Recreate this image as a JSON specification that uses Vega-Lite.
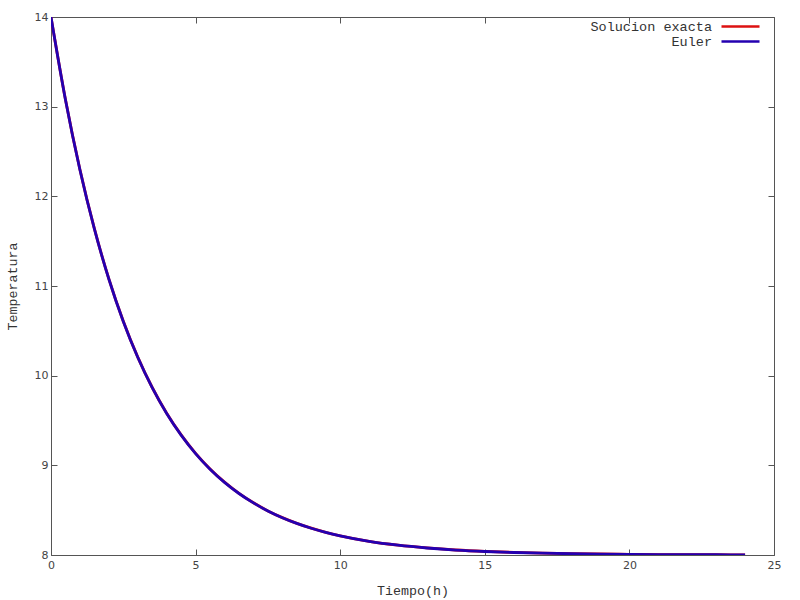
{
  "$schema": "https://vega.github.io/schema/vega-lite/v6.json",
  "width": 723,
  "height": 538,
  "autosize": {"type": "none"},
  "padding": {"left": 51, "top": 17, "right": 26, "bottom": 45},
  "background": "white",
  "config": {
    "view": {"stroke": "#555555", "strokeWidth": 1},
    "font": "DejaVu Sans",
    "axis": {
      "grid": false,
      "domain": false,
      "tickColor": "#555555",
      "tickSize": -6,
      "labelFlush": false,
      "labelOverlap": false,
      "labelFont": "DejaVu Sans",
      "labelFontSize": 11,
      "labelColor": "#444444",
      "titleFont": "Liberation Mono",
      "titleFontSize": 13.3,
      "titleFontWeight": "normal",
      "titleColor": "#333333"
    }
  },
  "data": {
    "values": [
      {"t": 0, "T": 14.0, "s": "Solucion exacta"},
      {"t": 0.5, "T": 13.079, "s": "Solucion exacta"},
      {"t": 1, "T": 12.299, "s": "Solucion exacta"},
      {"t": 1.5, "T": 11.639, "s": "Solucion exacta"},
      {"t": 2, "T": 11.08, "s": "Solucion exacta"},
      {"t": 2.5, "T": 10.607, "s": "Solucion exacta"},
      {"t": 3, "T": 10.207, "s": "Solucion exacta"},
      {"t": 3.5, "T": 9.868, "s": "Solucion exacta"},
      {"t": 4, "T": 9.581, "s": "Solucion exacta"},
      {"t": 4.5, "T": 9.339, "s": "Solucion exacta"},
      {"t": 5, "T": 9.133, "s": "Solucion exacta"},
      {"t": 5.5, "T": 8.959, "s": "Solucion exacta"},
      {"t": 6, "T": 8.812, "s": "Solucion exacta"},
      {"t": 6.5, "T": 8.687, "s": "Solucion exacta"},
      {"t": 7, "T": 8.582, "s": "Solucion exacta"},
      {"t": 7.5, "T": 8.492, "s": "Solucion exacta"},
      {"t": 8, "T": 8.417, "s": "Solucion exacta"},
      {"t": 8.5, "T": 8.353, "s": "Solucion exacta"},
      {"t": 9, "T": 8.299, "s": "Solucion exacta"},
      {"t": 9.5, "T": 8.253, "s": "Solucion exacta"},
      {"t": 10, "T": 8.214, "s": "Solucion exacta"},
      {"t": 11, "T": 8.153, "s": "Solucion exacta"},
      {"t": 12, "T": 8.11, "s": "Solucion exacta"},
      {"t": 13, "T": 8.079, "s": "Solucion exacta"},
      {"t": 14, "T": 8.056, "s": "Solucion exacta"},
      {"t": 15, "T": 8.04, "s": "Solucion exacta"},
      {"t": 16, "T": 8.029, "s": "Solucion exacta"},
      {"t": 17, "T": 8.021, "s": "Solucion exacta"},
      {"t": 18, "T": 8.015, "s": "Solucion exacta"},
      {"t": 19, "T": 8.011, "s": "Solucion exacta"},
      {"t": 20, "T": 8.008, "s": "Solucion exacta"},
      {"t": 21, "T": 8.005, "s": "Solucion exacta"},
      {"t": 22, "T": 8.004, "s": "Solucion exacta"},
      {"t": 23, "T": 8.003, "s": "Solucion exacta"},
      {"t": 24, "T": 8.002, "s": "Solucion exacta"},
      {"t": 0, "T": 14.0, "s": "Euler"},
      {"t": 0.5, "T": 13.078, "s": "Euler"},
      {"t": 1, "T": 12.297, "s": "Euler"},
      {"t": 1.5, "T": 11.637, "s": "Euler"},
      {"t": 2, "T": 11.078, "s": "Euler"},
      {"t": 2.5, "T": 10.605, "s": "Euler"},
      {"t": 3, "T": 10.205, "s": "Euler"},
      {"t": 3.5, "T": 9.866, "s": "Euler"},
      {"t": 4, "T": 9.579, "s": "Euler"},
      {"t": 4.5, "T": 9.337, "s": "Euler"},
      {"t": 5, "T": 9.131, "s": "Euler"},
      {"t": 5.5, "T": 8.957, "s": "Euler"},
      {"t": 6, "T": 8.81, "s": "Euler"},
      {"t": 6.5, "T": 8.686, "s": "Euler"},
      {"t": 7, "T": 8.581, "s": "Euler"},
      {"t": 7.5, "T": 8.491, "s": "Euler"},
      {"t": 8, "T": 8.416, "s": "Euler"},
      {"t": 8.5, "T": 8.352, "s": "Euler"},
      {"t": 9, "T": 8.298, "s": "Euler"},
      {"t": 9.5, "T": 8.252, "s": "Euler"},
      {"t": 10, "T": 8.213, "s": "Euler"},
      {"t": 11, "T": 8.152, "s": "Euler"},
      {"t": 12, "T": 8.109, "s": "Euler"},
      {"t": 13, "T": 8.078, "s": "Euler"},
      {"t": 14, "T": 8.055, "s": "Euler"},
      {"t": 15, "T": 8.039, "s": "Euler"},
      {"t": 16, "T": 8.028, "s": "Euler"},
      {"t": 17, "T": 8.02, "s": "Euler"},
      {"t": 18, "T": 8.014, "s": "Euler"},
      {"t": 19, "T": 8.01, "s": "Euler"},
      {"t": 20, "T": 8.007, "s": "Euler"},
      {"t": 21, "T": 8.005, "s": "Euler"},
      {"t": 22, "T": 8.004, "s": "Euler"},
      {"t": 23, "T": 8.003, "s": "Euler"},
      {"t": 24, "T": 8.002, "s": "Euler"}
    ]
  },
  "layer": [
    {
      "mark": {"type": "line", "interpolate": "monotone", "strokeWidth": 2.8, "clip": true},
      "encoding": {
        "x": {
          "field": "t", "type": "quantitative",
          "scale": {"domain": [0, 25], "nice": false},
          "axis": {"values": [0, 5, 10, 15, 20, 25], "title": "Tiempo(h)", "labelPadding": 10, "titlePadding": 13}
        },
        "y": {
          "field": "T", "type": "quantitative",
          "scale": {"domain": [8, 14], "nice": false, "zero": false},
          "axis": {"values": [8, 9, 10, 11, 12, 13, 14], "title": "Temperatura", "labelPadding": 9, "titlePadding": 15}
        },
        "color": {
          "field": "s", "type": "nominal",
          "scale": {"domain": ["Solucion exacta", "Euler"], "range": ["#dd1111", "#2400b0"]},
          "legend": {
            "title": null,
            "orient": "none",
            "legendX": 669,
            "legendY": 1,
            "symbolType": "M-1,0H4.43",
            "symbolSize": 196,
            "symbolStrokeWidth": 2.5,
            "symbolFillColor": "transparent",
            "labelFont": "Liberation Mono",
            "labelFontSize": 13.5,
            "labelColor": "#333333",
            "labelAlign": "right",
            "labelOffset": -25,
            "rowPadding": -1
          }
        }
      }
    },
    {
      "mark": {"type": "rule", "opacity": 0},
      "encoding": {
        "x": {
          "field": "t", "type": "quantitative",
          "axis": {"orient": "top", "values": [0, 5, 10, 15, 20, 25], "labels": false, "title": null}
        },
        "y": {
          "field": "T", "type": "quantitative",
          "axis": {"orient": "right", "values": [8, 9, 10, 11, 12, 13, 14], "labels": false, "title": null}
        }
      }
    }
  ],
  "resolve": {"axis": {"x": "independent", "y": "independent"}}
}
